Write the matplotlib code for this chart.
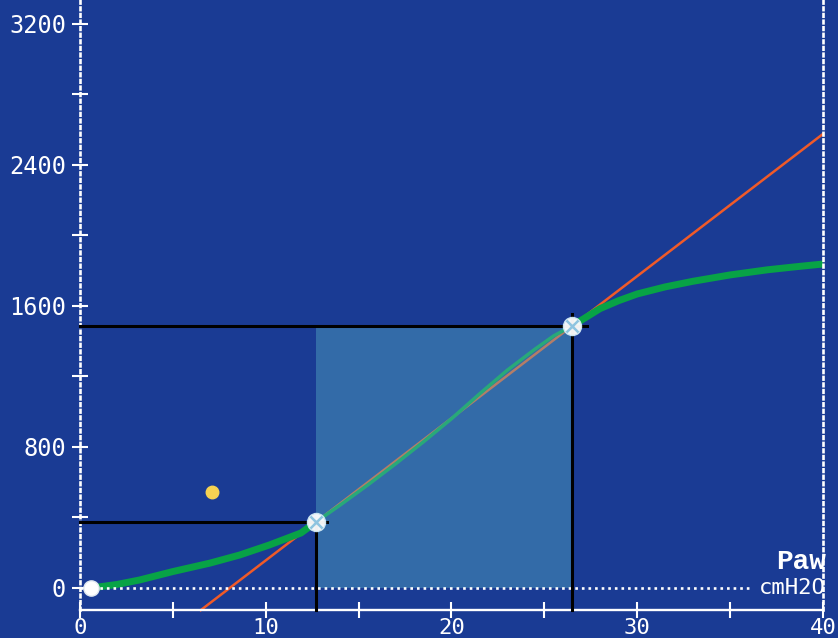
import matplotlib.pyplot as plt
from   matplotlib.patches import Rectangle

#Pressure-volume loop.
paw_green = [0.6, 1.1, 2.0, 3.2, 5.0, 7.0, 8.6, 10.2, 11.9, 12.7,
             14.0, 15.5, 17.0, 18.5, 20.0, 21.5, 23.0, 24.5, 25.5, 26.5,
             28.0, 29.0, 30.0, 31.5, 33.0, 35.0, 37.0, 38.5, 40.0]
vol_green = [0, 7, 20, 45, 93, 141, 187, 244, 312, 374,
             470, 585, 705, 830, 960, 1100, 1235, 1355, 1430, 1487,
             1585, 1630, 1668, 1708, 1740, 1776, 1805, 1822, 1838]

#Lower and upper inflection points, start point and the extra dot.
lip   = (12.7, 374)
uip   = (26.5, 1487)
start = (0.6, 0)
dot   = (7.1, 545)

#Tangent line through the two inflection points.
line_x = [6.5, 40.0]

xticks = [0, 10, 20, 30, 40]
xminor = [5, 15, 25, 35]
yticks = [0, 800, 1600, 2400, 3200]
yminor = [400, 1200, 2000, 2800]

BG     = '#1a3b94'
WHITE  = 'white'
GREEN  = '#08a346'
ORANGE = '#f05a28'
MONO   = 'DejaVu Sans Mono'
DOTS   = (0, (1, 1.5))

fig = plt.figure(figsize=(8.38, 6.38), dpi=100)
fig.patch.set_facecolor(BG)
ax = fig.add_axes([0, 0, 1, 1])
ax.set_facecolor(BG)
ax.set_xlim(-4.307, 40.81)
ax.set_ylim(-284, 3336)

#Axes: dotted left and right, solid bottom.
ax.spines['top'].set_visible(False)
ax.spines['left'].set_position(('data', 0))
ax.spines['left'].set_bounds(-125, 3336)
ax.spines['right'].set_position(('data', 40))
ax.spines['right'].set_bounds(-125, 3336)
ax.spines['bottom'].set_position(('data', -125))
ax.spines['bottom'].set_bounds(0, 40)
for s in ('left', 'right'):
	ax.spines[s].set_color(WHITE)
	ax.spines[s].set_linewidth(1.9)
	ax.spines[s].set_linestyle(DOTS)
ax.spines['bottom'].set_color(WHITE)
ax.spines['bottom'].set_linewidth(1.7)

ax.set_xticks(xticks)
ax.set_xticks(xminor, minor=True)
ax.set_yticks(yticks)
ax.set_yticks(yminor, minor=True)
ax.tick_params(which='both', direction='inout', color=WHITE, width=1.5,
	labelcolor=WHITE, labelsize=17, right=False, top=False)
ax.tick_params(axis='y', which='both', length=12, pad=4)
ax.tick_params(axis='x', which='both', length=11, pad=0, labelsize=16)
for lab in ax.get_xticklabels() + ax.get_yticklabels():
	lab.set_family(MONO)

#Zero volume reference line.
ax.plot([0, 36.2], [0, 0], color=WHITE, lw=1.9, ls=DOTS, zorder=3)

#Curve and tangent.
tangent_slope = (uip[1] - lip[1]) / (uip[0] - lip[0])
line_y = [lip[1] + tangent_slope * (x - lip[0]) for x in line_x]
ax.plot(line_x, line_y, color=ORANGE, lw=1.8, zorder=2)
i0 = paw_green.index(lip[0])
i1 = paw_green.index(uip[0])
ax.plot(paw_green[:i0 + 1], vol_green[:i0 + 1], color=GREEN, lw=5,
	solid_capstyle='butt', zorder=2)
ax.plot(paw_green[i0:i1 + 1], vol_green[i0:i1 + 1], color=GREEN, lw=2.5,
	zorder=2)
ax.plot(paw_green[i1:], vol_green[i1:], color=GREEN, lw=5,
	solid_capstyle='butt', zorder=2)

#Shaded linear zone between the inflection points.
ax.add_patch(Rectangle((lip[0], 0), uip[0] - lip[0], uip[1], facecolor='#5ab4c8',
	alpha=0.4, edgecolor='none', zorder=2.5))

#Black guide lines to the axes.
ax.plot([0, lip[0] + 0.6], [lip[1], lip[1]], color='black', lw=2.2, zorder=4)
ax.plot([lip[0], lip[0]], [-125, lip[1]], color='black', lw=2.2, zorder=4)
ax.plot([0, uip[0] + 0.8], [uip[1], uip[1]], color='black', lw=2.2, zorder=4)
ax.plot([uip[0], uip[0]], [-125, uip[1] + 70], color='black', lw=2.2, zorder=4)

#Markers.
ax.plot(*start, marker='o', ms=11, color=WHITE, mec='#e0e8f0', zorder=5)
for p in (lip, uip):
	ax.plot(*p, marker='o', ms=13, color=WHITE, mec='#cfe8f4', alpha=0.95,
		zorder=5)
	ax.plot(*p, marker='x', ms=9, color='#8ec4e0', mew=1.8, zorder=6)
ax.plot(*dot, marker='o', ms=9, color='#f6d252', mec='#f6d252', zorder=5)

#Axis name and unit.
ax.text(40.15, 147, 'Paw', color=WHITE, ha='right', va='center', fontsize=20,
	family='Liberation Mono', fontweight='bold', zorder=6)
ax.text(40.15, 0, 'cmH2O', color=WHITE, ha='right', va='center', fontsize=16,
	family=MONO, zorder=6)

fig.savefig('out.png', dpi=100, facecolor=BG)
